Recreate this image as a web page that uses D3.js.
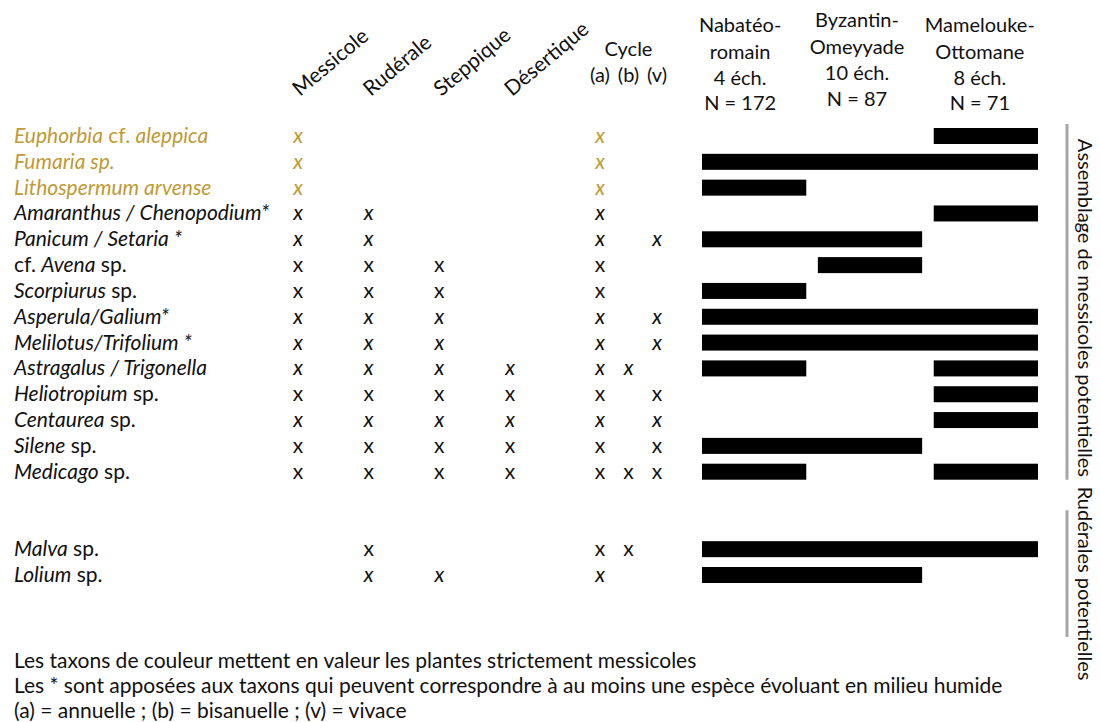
<!DOCTYPE html>
<html><head><meta charset="utf-8">
<script src="https://cdn.jsdelivr.net/npm/d3@7"></script>
<style>body{margin:0;background:#fff}svg{display:block}text{font-family:Lato,"Noto Sans",sans-serif}</style>
</head><body>
<script>
// ---- data ----
// taxa names: _..._ marks italic segments
const taxa = [
  "_Euphorbia_ cf. _aleppica_", "_Fumaria sp._", "_Lithospermum arvense_",
  "_Amaranthus / Chenopodium*_", "_Panicum / Setaria *_", "cf. _Avena_ sp.",
  "_Scorpiurus_ sp.", "_Asperula/Galium*_", "_Melilotus/Trifolium *_",
  "_Astragalus / Trigonella_", "_Heliotropium_ sp.", "_Centaurea_ sp.",
  "_Silene_ sp.", "_Medicago_ sp.", "_Malva_ sp.", "_Lolium_ sp."
];
const rowSlot   = [0,1,2,3,4,5,6,7,8,9,10,11,12,13,16,17];
const strictMessicole = [1,1,1,0,0,0,0,0,0,0,0,0,0,0,0,0];
const italicMarks     = [1,1,1,1,1,0,0,1,1,1,0,1,0,0,0,1];
const habitats = ["Messicole","Rudérale","Steppique","Désertique"];
const messicole  = [1,1,1,1,1,1,1,1,1,1,1,1,1,1,0,0];
const ruderale   = [0,0,0,1,1,1,1,1,1,1,1,1,1,1,1,1];
const steppique  = [0,0,0,0,0,1,1,1,1,1,1,1,1,1,0,1];
const desertique = [0,0,0,0,0,0,0,0,0,1,1,1,1,1,0,0];
const cycles = ["(a)","(b)","(v)"];
const annuelle   = [1,1,1,1,1,1,1,1,1,1,1,1,1,1,1,1];
const bisanuelle = [0,0,0,0,0,0,0,0,0,1,0,0,0,1,1,0];
const vivace     = [0,0,0,0,1,0,0,1,1,0,1,1,1,1,0,0];
const periods = ["Nabatéo-romain","Byzantin-Omeyyade","Mamelouke-Ottomane"];
const periodHeaders = [
  ["Nabatéo-","romain","4 éch.","N = 172"],
  ["Byzantin-","Omeyyade","10 éch.","N = 87"],
  ["Mamelouke-","Ottomane","8 éch.","N = 71"]
];
const nabateo   = [0,1,1,0,1,0,1,1,1,1,0,0,1,1,1,1];
const byzantin  = [0,1,0,0,1,1,0,1,1,0,0,0,1,0,1,1];
const mamelouke = [1,1,0,1,0,0,0,1,1,1,1,1,0,1,1,0];
const groups = [
  {label:"Assemblage de messicoles potentielles", from:0, to:13},
  {label:"Rudérales potentielles", from:16, to:17}
];
const notes = [
  "Les taxons de couleur mettent en valeur les plantes strictement messicoles",
  "Les * sont apposées aux taxons qui peuvent correspondre à au moins une espèce évoluant en milieu humide",
  "(a) = annuelle ; (b) = bisanuelle ; (v) = vivace"
];

// ---- drawing ----
const W=1100,H=722, GOLD="#bf9a35", INK="#111";
const svg=d3.select("body").append("svg").attr("width",W).attr("height",H);
const y=d3.scaleLinear().domain([0,17]).range([136,575]);
const xHab=d3.scalePoint().domain(habitats).range([298,510]);
const xCyc=d3.scalePoint().domain(cycles).range([600,657]);
const xPer=d3.scaleBand().domain(periods).range([702,1038]).paddingInner(0.1);
const FS=21;

// column headers (rotated)
habitats.forEach((h,i)=>{
  svg.append("text").attr("transform",`translate(${xHab(h)+2},${97}) rotate(-40)`)
    .attr("font-size",FS).attr("fill",INK).text(h);
});
svg.append("text").attr("x",xCyc("(b)")).attr("y",56).attr("text-anchor","middle")
  .attr("font-size",20).attr("fill",INK).text("Cycle");
cycles.forEach(c=>svg.append("text").attr("x",xCyc(c)).attr("y",82).attr("text-anchor","middle")
  .attr("font-size",20).attr("fill",INK).text(c));

// period headers
const headBase=[[32,59,85,110],[27,54,80,106],[32,59,85,110]];
const headShift=[-14,-13,-6];
periods.forEach((p,i)=>{
  periodHeaders[i].forEach((t,j)=>svg.append("text")
    .attr("x",xPer(p)+xPer.bandwidth()/2+headShift[i]).attr("y",headBase[i][j])
    .attr("text-anchor","middle").attr("font-size",20).attr("fill",INK).text(t));
});

// taxa names
taxa.forEach((t,i)=>{
  const tx=svg.append("text").attr("x",14).attr("y",y(rowSlot[i])+7)
    .attr("font-size",FS).attr("fill",strictMessicole[i]?GOLD:INK);
  t.split("_").forEach((seg,k)=>{ if(seg) tx.append("tspan").attr("font-style",k%2?"italic":"normal").text(seg); });
});

// marks
const habVals=[messicole,ruderale,steppique,desertique];
const cycVals=[annuelle,bisanuelle,vivace];
taxa.forEach((t,i)=>{
  const col=strictMessicole[i]?GOLD:INK, it=italicMarks[i]?"italic":"normal";
  habitats.forEach((h,k)=>{ if(habVals[k][i]) svg.append("text").attr("x",xHab(h)).attr("y",y(rowSlot[i])+7)
    .attr("text-anchor","middle").attr("font-size",FS).attr("font-style",it).attr("fill",col).text("x"); });
  cycles.forEach((c,k)=>{ if(cycVals[k][i]) svg.append("text").attr("x",xCyc(c)).attr("y",y(rowSlot[i])+7)
    .attr("text-anchor","middle").attr("font-size",FS).attr("font-style",it).attr("fill",col).text("x"); });
});

// presence bars (contiguous periods merged)
const perVals=[nabateo,byzantin,mamelouke];
taxa.forEach((t,i)=>{
  let k=0;
  while(k<3){
    if(perVals[k][i]){
      let e=k; while(e+1<3 && perVals[e+1][i]) e++;
      const x0=xPer(periods[k]), x1=xPer(periods[e])+xPer.bandwidth();
      svg.append("rect").attr("x",x0).attr("y",y(rowSlot[i])-8).attr("width",x1-x0).attr("height",16).attr("fill","#000");
      k=e+1;
    } else k++;
  }
});

// group brackets
groups.forEach((g,i)=>{
  const y0 = i===0 ? y(g.from)-12 : y(g.from)-39;
  const y1 = i===0 ? y(g.to)+8 : y(g.to)+62;
  svg.append("line").attr("x1",1067).attr("x2",1067).attr("y1",y0).attr("y2",y1)
    .attr("stroke","#a6a6a6").attr("stroke-width",3);
  const cy = i===0 ? (y0+y1)/2+6 : (y0+y1)/2+10;
  svg.append("text").attr("transform",`translate(1078,${cy}) rotate(90)`).attr("text-anchor","middle")
    .attr("font-size",20).attr("fill",INK).text(g.label);
});

// notes
notes.forEach((n,i)=>svg.append("text").attr("x",14).attr("y",668+i*25).attr("font-size",FS)
  .attr("fill",INK).text(n));
</script>
</body></html>
